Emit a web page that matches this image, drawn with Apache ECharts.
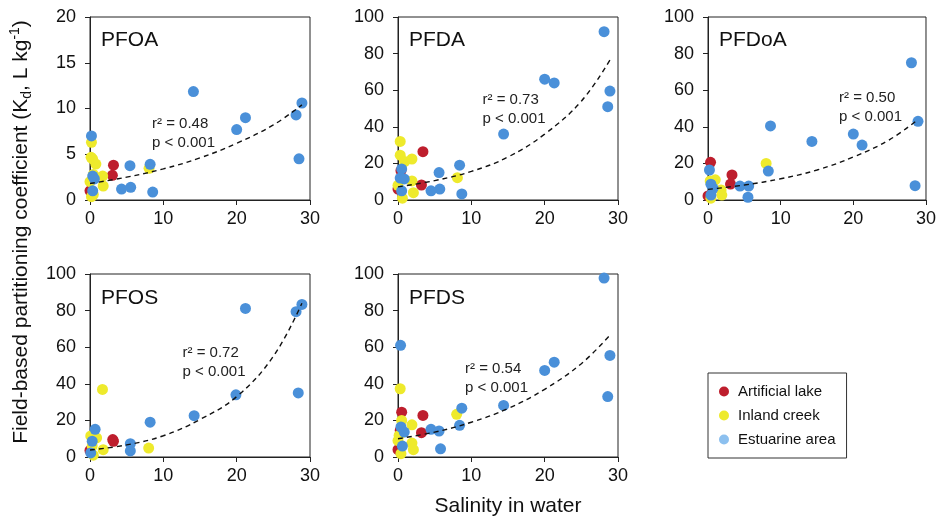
<!DOCTYPE html>
<html>
<head>
<meta charset="utf-8">
<script src="https://cdn.jsdelivr.net/npm/echarts@6/dist/echarts.min.js"></script>
<style>
  html, body { margin: 0; padding: 0; background: #fff; }
  #chart { width: 939px; height: 519px; }
</style>
</head>
<body>
<div id="chart"></div>
<script>
var panelNames = ['PFOA', 'PFDA', 'PFDoA', 'PFOS', 'PFDS']
var groupNames = ['Artificial lake', 'Inland creek', 'Estuarine area']
var statLabels = [
  'r² = 0.48\np < 0.001',
  'r² = 0.73\np < 0.001',
  'r² = 0.50\np < 0.001',
  'r² = 0.72\np < 0.001',
  'r² = 0.54\np < 0.001'
]
var yMax = [20, 100, 100, 100, 100]
var yStep = [5, 20, 20, 20, 20]

// [salinity, Kd]
var pfoaLake = [[0, 1.0], [3.05, 2.7], [3.2, 3.8]]
var pfoaCreek = [[0.2, 6.3], [0.15, 4.67], [0.35, 4.5], [0.8, 3.93], [0.45, 2.8], [0, 2.0], [1.73, 2.62], [1.8, 1.53],
  [0.2, 0.36], [0.45, 0.6], [8.05, 3.46]]
var pfoaEstuary = [[0.2, 7.0], [0.37, 2.62], [0.6, 2.3], [0.37, 1.0], [4.3, 1.2], [5.55, 1.38], [5.45, 3.75], [8.2, 3.9],
  [8.55, 0.87], [14.1, 11.85], [20.0, 7.7], [21.2, 9.0], [28.1, 9.3], [28.9, 10.6], [28.5, 4.5]]
var pfoaFit = [[0, 1.8], [5, 2.5], [10, 3.4], [15, 4.6], [20, 6.2], [25, 8.2], [28.9, 10.4]]

var pfdaLake = [[0, 6], [0.4, 16], [3.2, 8.2], [3.4, 26.4]]
var pfdaCreek = [[0.3, 32], [0.3, 24.5], [0.9, 21], [1.9, 22.4], [1.9, 10.4], [2.1, 4], [8.1, 12.2], [0.6, 1], [0, 8]]
var pfdaEstuary = [[28.1, 92], [20.0, 66], [21.3, 64], [28.9, 59.5], [28.6, 51], [14.4, 36], [8.4, 19], [5.6, 15],
  [5.7, 6], [4.5, 5], [8.7, 3.3], [0.5, 17], [0.3, 12], [0.85, 11.5], [0.5, 5]]
var pfdaFit = [[0, 7.2], [5, 10.6], [10, 15.6], [15, 23.5], [20, 36], [25, 54], [28.9, 76.5]]

var pfdoaLake = [[0, 2.2], [0.35, 20.6], [3.3, 13.7], [3.1, 8.7]]
var pfdoaCreek = [[8.0, 20], [1.0, 11], [0.3, 10.4], [1.8, 5.5], [1.9, 2.7], [0.4, 1]]
var pfdoaEstuary = [[28.0, 75], [28.9, 43], [20.0, 36], [21.2, 30], [14.3, 32], [8.6, 40.5], [8.3, 15.8], [4.4, 7.6],
  [5.6, 7.6], [5.5, 1.5], [28.5, 7.8], [0.2, 16.4], [0.4, 8.6], [0.7, 6.4], [0.4, 2.7]]
var pfdoaFit = [[0, 5.8], [5, 8.2], [10, 11.6], [15, 16.4], [20, 23.5], [25, 33], [28.9, 44]]

var pfosLake = [[0, 3.6], [3.1, 9.5], [3.2, 8.6]]
var pfosCreek = [[1.7, 36.9], [0.1, 11.5], [0.9, 10.4], [1.8, 4.0], [8.0, 4.9], [0.45, 1.0], [0.3, 6]]
var pfosEstuary = [[21.2, 81.2], [28.9, 83.4], [28.1, 79.4], [28.4, 35], [19.9, 34], [14.2, 22.6], [8.2, 19],
  [5.5, 7.3], [5.5, 3.3], [0.7, 15.1], [0.3, 8.6], [0.1, 2.2]]
var pfosFit = [[0, 3.8], [5, 6.6], [10, 11.6], [15, 20.5], [20, 33], [25, 55], [28.9, 84]]

var pfdsLake = [[0, 4], [0.3, 14.5], [0.5, 24.5], [3.4, 22.7], [3.2, 13.3]]
var pfdsCreek = [[0.3, 37.3], [8.0, 23.3], [0.5, 20], [1.9, 17.6], [0.15, 11.8], [1.9, 7.6], [2.1, 4], [0.4, 1.8], [0, 9]]
var pfdsEstuary = [[28.1, 97.8], [28.9, 55.5], [28.6, 33], [20.0, 47.3], [21.3, 51.8], [14.4, 28.2], [8.7, 26.7],
  [8.4, 17.3], [4.5, 15.1], [5.6, 14.2], [5.8, 4.5], [0.35, 61], [0.4, 16.4], [0.85, 13.6], [0.6, 6]]
var pfdsFit = [[0, 10], [5, 13.6], [10, 19], [15, 26.5], [20, 37], [25, 51], [29, 67]]

var lakeData = [pfoaLake, pfdaLake, pfdoaLake, pfosLake, pfdsLake]
var creekData = [pfoaCreek, pfdaCreek, pfdoaCreek, pfosCreek, pfdsCreek]
var estuaryData = [pfoaEstuary, pfdaEstuary, pfdoaEstuary, pfosEstuary, pfdsEstuary]
var fitData = [pfoaFit, pfdaFit, pfdoaFit, pfosFit, pfdsFit]

var FONT = '"Liberation Sans", Arial, Helvetica, sans-serif'
var colors = ['#be1e2d', '#eeea2c', '#4a90d9']
var gridLeft = [90, 398, 708, 90, 398]
var gridTop = [17, 17, 17, 274, 274]
var titlePos = [[101, 40.5], [409, 40.5], [719, 40.5], [101, 298.5], [409, 298.5]]
var statPos = [[152, 133.3], [482.5, 109.2], [839, 107.7], [182.5, 362.5], [465, 378.8]]

var chart = echarts.init(document.getElementById('chart'), null, { renderer: 'canvas' })

var grids = []
var xAxes = []
var yAxes = []
var series = []
var graphics = []

panelNames.forEach(function (name, i) {
  grids.push({
    left: gridLeft[i],
    top: gridTop[i],
    width: 220,
    height: 183,
    show: true,
    borderColor: '#222',
    borderWidth: 1
  })
  xAxes.push({
    gridIndex: i,
    type: 'value',
    min: 0,
    max: 30,
    interval: 10,
    axisLine: { lineStyle: { color: '#222', width: 1 } },
    axisTick: { show: true, length: 5, lineStyle: { color: '#222' } },
    axisLabel: { margin: 10, fontSize: 18, color: '#111', fontFamily: FONT },
    splitLine: { show: false }
  })
  yAxes.push({
    gridIndex: i,
    type: 'value',
    min: 0,
    max: yMax[i],
    interval: yStep[i],
    axisLine: { show: true, lineStyle: { color: '#222', width: 1 } },
    axisTick: { show: true, length: 5, lineStyle: { color: '#222' } },
    axisLabel: { margin: 14, fontSize: 18, color: '#111', fontFamily: FONT },
    splitLine: { show: false }
  })
  var groups = [lakeData[i], creekData[i], estuaryData[i]]
  groups.forEach(function (d, g) {
    series.push({
      name: groupNames[g],
      type: 'scatter',
      xAxisIndex: i,
      yAxisIndex: i,
      data: d,
      symbolSize: 11,
      itemStyle: { color: colors[g], opacity: 1 },
      emphasis: { disabled: true }
    })
  })
  series.push({
    name: 'fit',
    type: 'line',
    xAxisIndex: i,
    yAxisIndex: i,
    data: fitData[i],
    smooth: 0.4,
    showSymbol: false,
    silent: true,
    z: 5,
    lineStyle: { color: '#111', width: 1.4, type: [5, 4] }
  })
  graphics.push({
    type: 'text',
    x: titlePos[i][0],
    y: titlePos[i][1],
    style: {
      text: name,
      fill: '#111',
      font: '21px ' + FONT,
      textAlign: 'left',
      textVerticalAlign: 'middle'
    }
  })
  graphics.push({
    type: 'text',
    x: statPos[i][0],
    y: statPos[i][1],
    style: {
      text: statLabels[i],
      fill: '#222',
      font: '15px ' + FONT,
      lineHeight: 19,
      textAlign: 'left',
      textVerticalAlign: 'middle'
    }
  })
})

graphics.push({
  type: 'text',
  x: 508,
  y: 506,
  style: {
    text: 'Salinity in water',
    fill: '#111',
    font: '21px ' + FONT,
    textAlign: 'center',
    textVerticalAlign: 'middle'
  }
})
graphics.push({
  type: 'text',
  x: 21,
  y: 232,
  rotation: Math.PI / 2,
  style: {
    text: '{t|Field-based partitioning coefficient (K}{sub|d}{t|, L kg}{sup|-1}{t|)}',
    fill: '#111',
    font: '21px ' + FONT,
    textAlign: 'center',
    textVerticalAlign: 'middle',
    rich: {
      t: { fontSize: 21, lineHeight: 26, fontFamily: FONT, fill: '#111' },
      sub: { fontSize: 14, lineHeight: 16, verticalAlign: 'bottom', fontFamily: FONT, fill: '#111' },
      sup: { fontSize: 14, lineHeight: 16, verticalAlign: 'top', fontFamily: FONT, fill: '#111' }
    }
  }
})

chart.setOption({
  animation: false,
  textStyle: { fontFamily: FONT },
  grid: grids,
  xAxis: xAxes,
  yAxis: yAxes,
  legend: {
    orient: 'vertical',
    left: 708,
    top: 373,
    padding: [10, 11, 10, 11],
    borderColor: '#333',
    borderWidth: 1,
    itemGap: 7,
    itemWidth: 10,
    itemHeight: 10,
    icon: 'circle',
    textStyle: { fontSize: 15, color: '#111', fontFamily: FONT, lineHeight: 17, padding: [0, 0, 0, 4] },
    data: [
      { name: 'Artificial lake', itemStyle: { color: '#be1e2d' } },
      { name: 'Inland creek', itemStyle: { color: '#eeea2c' } },
      { name: 'Estuarine area', itemStyle: { color: '#8cc0ef' } }
    ]
  },
  graphic: graphics,
  series: series
})
</script>
</body>
</html>
